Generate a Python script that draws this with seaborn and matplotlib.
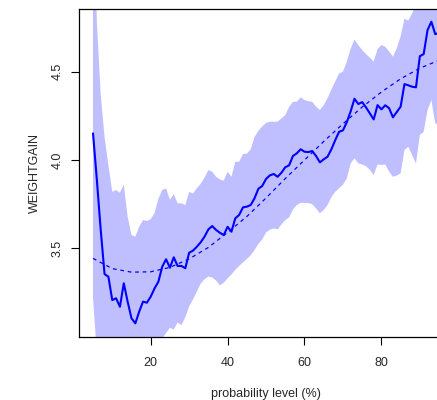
import matplotlib
matplotlib.use("Agg")
import matplotlib.pyplot as plt
import numpy as np
import pandas as pd
import seaborn as sns

# probability levels (%)
tau = list(range(5, 96))

# quantile regression coefficient (solid line)
coef = [4.151, 3.887, 3.604, 3.354, 3.339, 3.207, 3.217, 3.169, 3.302, 3.198,
        3.104, 3.075, 3.141, 3.198, 3.192, 3.226, 3.273, 3.311, 3.396, 3.438,
        3.390, 3.449, 3.400, 3.400, 3.387, 3.475, 3.487, 3.509, 3.534, 3.566,
        3.607, 3.626, 3.604, 3.588, 3.575, 3.622, 3.594, 3.670, 3.689, 3.732,
        3.736, 3.745, 3.783, 3.837, 3.853, 3.893, 3.913, 3.921, 3.905, 3.928,
        3.959, 3.970, 4.023, 4.038, 4.061, 4.047, 4.045, 4.051, 4.023, 3.987,
        4.004, 4.019, 4.061, 4.113, 4.160, 4.168, 4.214, 4.275, 4.347, 4.317,
        4.328, 4.298, 4.264, 4.230, 4.311, 4.287, 4.310, 4.294, 4.242, 4.272,
        4.302, 4.430, 4.423, 4.415, 4.412, 4.588, 4.600, 4.736, 4.783, 4.713,
        4.720]

# confidence band
upper = [5.600, 4.780, 4.370, 4.130, 3.970, 3.820, 3.830, 3.815, 3.860, 3.680,
         3.575, 3.566, 3.622, 3.660, 3.655, 3.665, 3.700, 3.780, 3.830, 3.840,
         3.775, 3.807, 3.755, 3.755, 3.745, 3.820, 3.810, 3.840, 3.865, 3.900,
         3.943, 3.934, 3.905, 3.890, 3.883, 3.934, 3.905, 3.990, 3.990, 4.034,
         4.036, 4.060, 4.130, 4.165, 4.190, 4.210, 4.217, 4.217, 4.217, 4.236,
         4.255, 4.300, 4.330, 4.330, 4.355, 4.340, 4.333, 4.330, 4.302, 4.283,
         4.311, 4.350, 4.400, 4.445, 4.490, 4.500, 4.557, 4.630, 4.683, 4.651,
         4.623, 4.600, 4.580, 4.557, 4.628, 4.651, 4.642, 4.615, 4.585, 4.633,
         4.700, 4.800, 4.790, 4.830, 4.880, 4.920, 4.950, 4.980, 5.000, 5.000,
         5.000]
lower = [3.220, 2.900, 2.800, 2.850, 2.850, 2.800, 2.800, 2.750, 2.850, 2.800,
         2.700, 2.700, 2.750, 2.800, 2.800, 2.850, 2.880, 2.930, 2.990, 3.020,
         3.050, 3.040, 3.080, 3.065, 3.110, 3.170, 3.210, 3.255, 3.300, 3.325,
         3.340, 3.335, 3.318, 3.290, 3.305, 3.330, 3.352, 3.378, 3.400, 3.420,
         3.440, 3.460, 3.490, 3.525, 3.550, 3.590, 3.605, 3.613, 3.607, 3.635,
         3.660, 3.675, 3.720, 3.745, 3.758, 3.757, 3.756, 3.750, 3.727, 3.698,
         3.717, 3.745, 3.790, 3.820, 3.840, 3.860, 3.896, 3.980, 4.010, 3.981,
         3.975, 3.965, 3.945, 3.915, 3.975, 3.972, 3.975, 3.935, 3.905, 3.912,
         3.925, 4.057, 4.075, 4.028, 3.981, 4.142, 4.160, 4.283, 4.340, 4.208,
         4.200]

# least squares fit (dashed line), read at every 5%
ols_tau = list(range(5, 96, 5))
ols_fit = [3.443, 3.385, 3.365, 3.367, 3.392, 3.440, 3.505, 3.590, 3.680, 3.785,
           3.895, 4.000, 4.105, 4.205, 4.300, 4.385, 4.460, 4.520, 4.565]

df = pd.DataFrame({"tau": tau, "coef": coef, "upper": upper, "lower": lower})
ols = pd.DataFrame({"tau": ols_tau, "fit": ols_fit})

sns.set_theme(style="white")
plt.rcParams['font.family'] = ['Liberation Sans', 'DejaVu Sans']

fig = plt.figure(figsize=(4.37, 4.0), dpi=100)
ax = fig.add_axes([0.1812, 0.1585, 0.8552, 0.818])

ax.fill_between(df["tau"], df["lower"], df["upper"], color="#bfbfff", lw=0)
sns.lineplot(data=df, x="tau", y="coef", ax=ax, color="blue", lw=1.5, errorbar=None)
sns.lineplot(data=ols, x="tau", y="fit", ax=ax, color="blue", lw=0.9,
             linestyle=(0, (3, 3)), errorbar=None)

ax.set_xlim(1.4, 98.6)
ax.set_ylim(3.0, 4.853)
ax.set_xticks([20, 40, 60, 80])
ax.set_yticks([3.5, 4.0, 4.5])
ax.set_yticklabels(["3.5", "4.0", "4.5"], rotation=90, va="center")

for s in ax.spines.values():
    s.set_color("black")
    s.set_linewidth(0.9)

ax.tick_params(axis="both", direction="out", length=5.5, width=0.8, color="black",
               labelsize=9, left=True, bottom=True)
ax.tick_params(axis="x", pad=9)
ax.tick_params(axis="y", pad=6)
ax.set_xlabel("probability level (%)", fontsize=9, labelpad=14)
ax.set_ylabel("WEIGHTGAIN", fontsize=9, labelpad=7.5)

fig.savefig("out.png", dpi=100)
